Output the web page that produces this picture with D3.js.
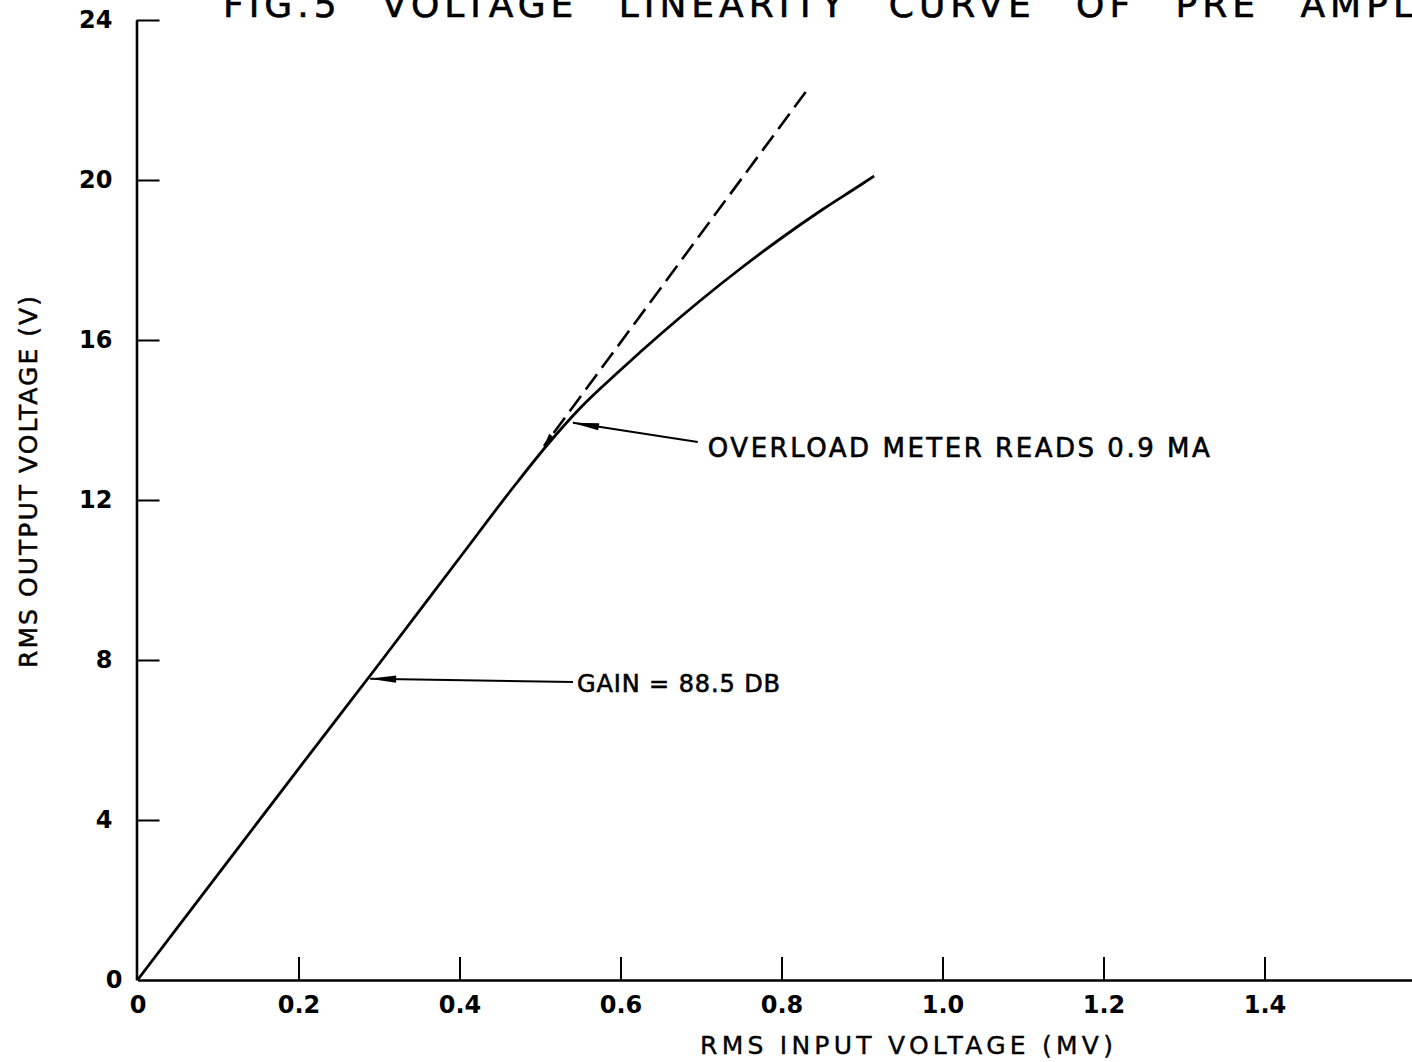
<!DOCTYPE html>
<html>
<head>
<meta charset="utf-8">
<script src="https://cdn.jsdelivr.net/npm/d3@7"></script>
<style>
  body { margin: 0; background: #fff; }
  svg { display: block; background: #fff; }
  text { font-family: "DejaVu Sans", sans-serif; fill: #000; }
</style>
</head>
<body>
<svg id="chart"></svg>
<script>
var inputMv  = [0, 0.1, 0.2, 0.3, 0.4, 0.47, 0.51, 0.55, 0.6, 0.65, 0.7, 0.75, 0.8, 0.85, 0.9, 0.915]
var outputV  = [0, 2.64, 5.28, 7.9, 10.55, 12.4, 13.4, 14.3, 15.25, 16.15, 17.0, 17.8, 18.55, 19.25, 19.9, 20.1]

// extrapolated linear response (dashed)
var linearInput  = [0.83, 0.505]
var linearOutput = [22.2, 13.35]

var xTicks = [0, 0.2, 0.4, 0.6, 0.8, 1.0, 1.2, 1.4]
var xTickLabels = ["0", "0.2", "0.4", "0.6", "0.8", "1.0", "1.2", "1.4"]
var yTicks = [0, 4, 8, 12, 16, 20, 24]
var yTickLabels = ["0", "4", "8", "12", "16", "20", "24"]

// annotations: arrow tail -> tip in data units
var gainNote = { text: "GAIN = 88.5 DB", tail: [0.541, 7.45], tip: [0.289, 7.53] }
var overloadNote = { text: "OVERLOAD METER READS 0.9 MA", tail: [0.696, 13.45], tip: [0.541, 13.93] }

var titleText = "FIG.5 VOLTAGE LINEARITY CURVE OF PRE AMPLIFIER"
var xTitle = "RMS INPUT VOLTAGE (MV)"
var yTitle = "RMS OUTPUT VOLTAGE (V)"

var dims = { width: 1412, height: 1062 }

var svg = d3.select("#chart")
    .attr("width", dims.width)
    .attr("height", dims.height)

var xScale = d3.scaleLinear()
    .domain([0, 1.6])
    .range([137.5, 137.5 + 8 * 161])

var yScale = d3.scaleLinear()
    .domain([0, 24])
    .range([980, 20])

// arrow heads
var defs = svg.append("defs")
defs.append("marker")
    .attr("id", "head")
    .attr("markerUnits", "userSpaceOnUse")
    .attr("viewBox", "-28 -5 30 10")
    .attr("refX", 0).attr("refY", 0)
    .attr("markerWidth", 30).attr("markerHeight", 10)
    .attr("orient", "auto")
    .append("path")
    .attr("d", "M1,0 L-26,-3.6 L-26,3.6 Z")
    .attr("fill", "#000")

defs.append("marker")
    .attr("id", "smallHead")
    .attr("markerUnits", "userSpaceOnUse")
    .attr("viewBox", "-16 -5 18 10")
    .attr("refX", 0).attr("refY", 0)
    .attr("markerWidth", 18).attr("markerHeight", 10)
    .attr("orient", "auto")
    .append("path")
    .attr("d", "M1,0 L-13,-3.2 L-13,3.2 Z")
    .attr("fill", "#000")

// axes
var xAxisGen = d3.axisBottom(xScale)
    .tickValues(xTicks)
    .tickFormat((d, i) => xTickLabels[i])
    .tickSizeInner(-23)
    .tickSizeOuter(0)
    .tickPadding(16)

var xAxis = svg.append("g")
    .attr("transform", `translate(0, ${yScale(0)})`)
    .call(xAxisGen)

var yAxisGen = d3.axisLeft(yScale)
    .tickValues(yTicks)
    .tickFormat((d, i) => yTickLabels[i])
    .tickSizeInner(-23)
    .tickSizeOuter(0)
    .tickPadding(24)

var yAxis = svg.append("g")
    .attr("transform", `translate(${xScale(0) - 1}, 0)`)
    .call(yAxisGen)

for (var ax of [xAxis, yAxis]) {
    ax.attr("font-family", null).attr("font-size", null)
    ax.select(".domain").attr("stroke", "#000").attr("stroke-width", 2.6)
    ax.selectAll(".tick line").attr("stroke", "#000").attr("stroke-width", 2)
    ax.selectAll(".tick text")
        .style("font-size", "24px")
        .style("font-weight", "bold")
        .attr("fill", "#000")
}
yAxis.selectAll(".tick").filter(d => d === 0).select("line").remove()
xAxis.selectAll(".tick").filter(d => d === 0).select("line").remove()
// the scanned "0" on the y axis sits a little closer to the axis
yAxis.selectAll(".tick").filter(d => d === 0).select("text").attr("x", -14)

// curves
var measured = inputMv.map((v, i) => [v, outputV[i]])
var linear = linearInput.map((v, i) => [v, linearOutput[i]])

svg.append("path")
    .datum(measured)
    .attr("d", d3.line().x(d => xScale(d[0])).y(d => yScale(d[1])).curve(d3.curveMonotoneX))
    .attr("fill", "none")
    .attr("stroke", "#000")
    .attr("stroke-width", 2.8)
    .attr("stroke-linejoin", "round")

svg.append("path")
    .datum(linear)
    .attr("d", d3.line().x(d => xScale(d[0])).y(d => yScale(d[1])))
    .attr("fill", "none")
    .attr("stroke", "#000")
    .attr("stroke-width", 2.6)
    .attr("stroke-dasharray", "19,8")
    .attr("marker-end", "url(#smallHead)")

// annotations
function annotate(note, dx, dy, len, size) {
    svg.append("line")
        .attr("x1", xScale(note.tail[0]))
        .attr("y1", yScale(note.tail[1]))
        .attr("x2", xScale(note.tip[0]))
        .attr("y2", yScale(note.tip[1]))
        .attr("stroke", "#000")
        .attr("stroke-width", 2)
        .attr("marker-end", "url(#head)")
    svg.append("text")
        .attr("x", xScale(note.tail[0]) + dx)
        .attr("y", yScale(note.tail[1]) + dy)
        .attr("textLength", len)
        .attr("lengthAdjust", "spacing")
        .style("font-size", size + "px")
        .attr("stroke", "#000")
        .attr("stroke-width", 0.6)
        .text(note.text)
}
annotate(gainNote, 4, 10, 203, 24)
annotate(overloadNote, 10, 15, 502, 26)

// titles
svg.append("text")
    .attr("x", 223)
    .attr("y", 17)
    .style("font-size", "36px")
    .style("letter-spacing", "5px")
    .style("word-spacing", "24px")
    .attr("stroke", "#000")
    .attr("stroke-width", 0.6)
    .text(titleText)

svg.append("text")
    .attr("x", 700)
    .attr("y", 1054)
    .attr("textLength", 413)
    .attr("lengthAdjust", "spacing")
    .style("font-size", "25px")
    .attr("stroke", "#000")
    .attr("stroke-width", 0.4)
    .text(xTitle)

svg.append("text")
    .attr("transform", "translate(37, 482) rotate(-90)")
    .attr("text-anchor", "middle")
    .attr("textLength", 372)
    .attr("lengthAdjust", "spacing")
    .style("font-size", "25px")
    .attr("stroke", "#000")
    .attr("stroke-width", 0.5)
    .text(yTitle)
</script>
</body>
</html>
